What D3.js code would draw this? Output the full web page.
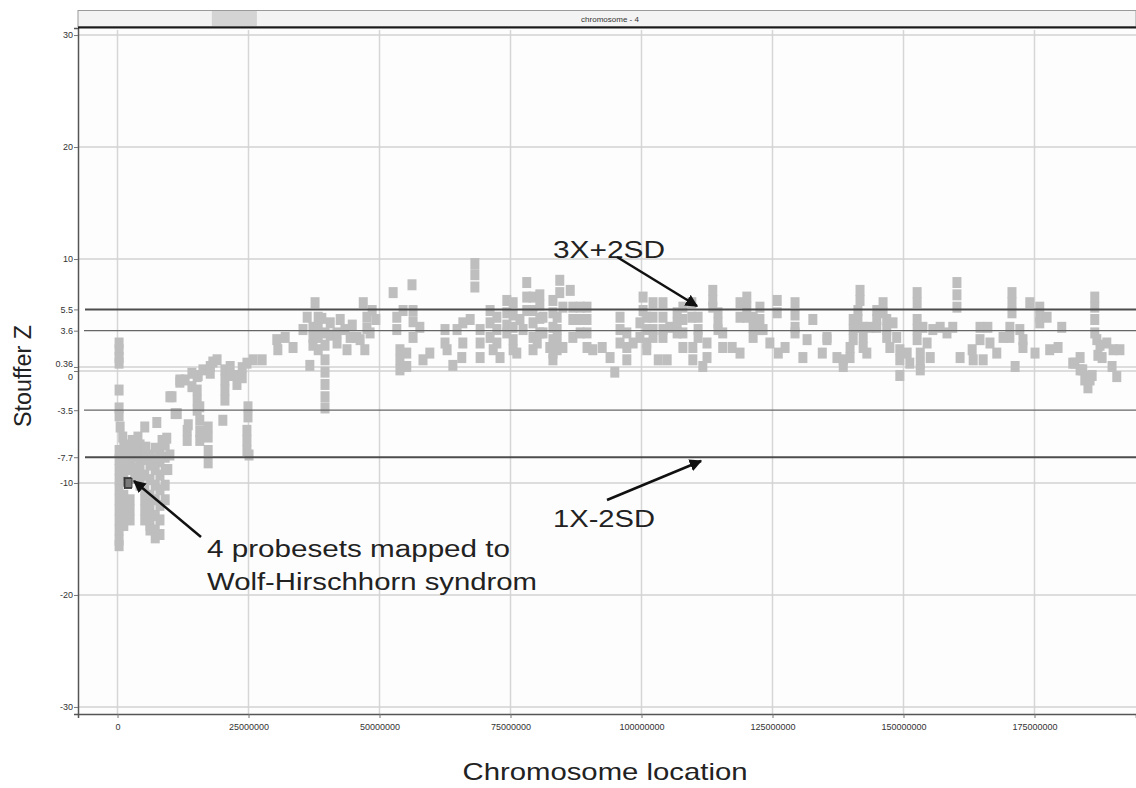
<!DOCTYPE html>
<html>
<head>
<meta charset="utf-8">
<script src="https://cdn.jsdelivr.net/npm/d3@7"></script>
<style>
  body { margin: 0; background: #fff; }
  .tick text { font-family: "Liberation Sans Narrow", "Arial Narrow", "Liberation Sans", Arial, sans-serif; font-size: 9px; fill: #333; }
  .label { font-family: "Liberation Sans", Arial, sans-serif; fill: #222; }
</style>
</head>
<body>
<div id="chart"></div>
<script>
// chart data (positions in Mb, values are Stouffer Z)
var xTicks = [0, 25000000, 50000000, 75000000, 100000000, 125000000, 150000000, 175000000];
var yTicks = [30, 20, 10, 5.5, 3.6, 0.36, 0, -3.5, -7.7, -10, -20, -30];
var gridValues = [30, 20, 10, 0.36, 0, -10, -20, -30];
var outerCutoffs = [5.5, -7.7];
var innerCutoffs = [3.6, -3.5];

var probesets = [
  // p-terminal end
  [0.3,2.5],[0.3,1.9],[0.3,1.2],[0.3,0.7],[0.3,-1.7],[0.3,-3.3],[0.3,-4.0],[0.5,-5.0],
  [0.3,-7.1],[0.3,-7.9],[0.3,-8.8],[0.3,-9.7],[0.3,-10.6],[0.3,-11.5],[0.3,-12.4],[0.3,-13.3],[0.3,-14.2],[0.3,-15.1],[0.3,-15.6],
  [1.2,-6.6],[1.2,-7.5],[1.2,-8.4],[1.2,-9.3],[1.2,-11.1],[1.2,-12.0],[1.2,-12.9],[1.2,-13.8],
  [2.4,-7.1],[2.4,-7.9],[2.4,-8.8],[2.4,-11.5],[2.4,-12.4],[2.4,-13.3],
  [3.3,-6.9],[3.3,-7.7],[3.3,-8.7],[3.3,-9.6],
  [4.3,-6.6],[4.3,-7.5],[4.3,-8.4],[4.3,-9.3],[4.3,-10.2],
  [5.2,-7.1],[5.2,-7.9],[5.2,-9.3],[5.2,-10.6],[5.2,-11.5],[5.2,-12.4],[5.2,-13.3],
  [6.2,-7.5],[6.2,-8.4],[6.2,-9.7],[6.2,-11.1],[6.2,-12.0],[6.2,-12.9],[6.2,-13.8],[6.2,-14.2],
  [7.2,-6.9],[7.2,-7.9],[7.2,-8.8],[7.2,-10.2],[7.2,-11.5],[7.2,-12.9],[7.2,-14.2],[7.2,-14.9],
  [8.1,-7.1],[8.1,-8.1],[8.1,-9.3],[8.1,-10.6],[8.1,-12.0],[8.1,-13.3],[8.1,-14.6],
  [9.1,-6.6],[9.1,-7.7],[9.1,-8.8],[9.1,-10.2],[9.1,-11.5],
  [1.0,-5.9],[2.8,-6.2],[3.9,-5.9],[5.2,-5.0],[7.5,-4.6],[5.4,-6.8],[8.5,-6.2],[9.4,-6.0],[10.0,-7.5],[9.6,-8.8],
  // 10 - 20 Mb
  [10.0,-2.3],[10.4,-2.3],[11.4,-3.8],[11.0,-3.8],[11.9,-0.8],[11.9,-1.0],[13.3,-5.3],[13.3,-6.2],[13.5,-4.8],
  [14.2,-0.2],[14.2,-1.4],[15.2,-0.5],[15.2,-1.7],[15.2,-2.6],[15.2,-3.5],[15.7,-3.2],[15.7,-4.4],[15.7,-5.4],[15.7,-6.2],
  [16.3,0.1],[17.3,-5.0],[17.3,-5.9],[17.3,-7.1],[17.3,-8.2],[17.7,0.4],[17.7,-0.2],[18.2,0.8],[19.0,1.0],[15.4,-0.4],[12.9,-0.8],
  // 20 - 27 Mb
  [20.1,-4.4],[20.5,0.1],[20.5,-0.8],[20.5,-1.7],[20.5,-2.6],[21.5,0.4],[21.5,-0.4],[22.4,-0.4],[22.8,-1.2],
  [23.8,0.3],[23.8,-0.6],[24.7,0.7],[25.9,1.0],[24.9,-3.2],[24.9,-4.1],[24.7,-5.3],[24.7,-6.2],[24.7,-7.1],[25.1,-7.5],
  // 27 - 50 Mb
  [27.6,1.0],[30.4,2.8],[32.0,3.0],[30.6,1.9],[33.5,2.1],[36.2,4.8],[37.7,6.1],[36.7,0.5],[37.3,3.9],[37.3,3.0],[37.3,2.3],
  [38.3,4.8],[38.3,3.9],[38.3,3.0],[38.3,1.9],[39.6,3.4],[39.6,2.3],[39.6,1.0],[39.6,-0.1],[39.6,-1.2],[39.6,-2.3],[39.6,-3.3],
  [40.6,4.3],[40.6,3.2],[42.5,4.6],[41.9,3.4],[41.9,2.5],[43.8,1.9],[44.4,3.0],[45.7,3.0],[46.9,6.1],[47.6,4.8],[47.6,3.8],
  [48.2,3.4],[48.6,5.4],[49.3,4.6],[35.4,3.7],[39.0,4.7],[43.4,3.7],[44.8,4.1],[46.3,2.8],[47.2,1.9],
  // 50 - 84 Mb
  [52.6,7.0],[56.2,7.7],[53.3,4.8],[53.3,3.7],[54.5,5.4],[56.4,5.4],[56.4,4.4],[56.4,3.0],[57.7,3.9],[53.9,1.9],[53.9,1.0],
  [53.9,0.1],[55.2,1.6],[55.2,0.4],[58.3,1.0],[59.6,1.6],[62.5,3.7],[62.5,2.5],[62.9,1.9],[64.0,0.5],[65.9,4.3],[65.9,2.5],
  [65.7,1.2],[68.2,9.6],[68.2,8.6],[68.2,7.5],[69.2,3.7],[69.2,2.5],[69.2,1.2],[71.1,5.4],[71.1,4.3],[71.1,3.0],[71.7,1.9],
  [73.0,1.2],[72.4,4.8],[72.4,3.7],[72.4,2.5],[74.3,6.3],[74.3,5.2],[74.3,4.1],[74.3,3.4],[75.5,6.1],[75.5,5.0],[75.5,3.9],
  [75.5,2.8],[75.5,1.9],[76.2,1.6],[78.1,7.9],[78.1,6.6],[78.1,5.4],[79.3,6.6],[79.3,5.4],[79.3,4.3],[79.3,3.0],[79.3,1.9],
  [80.1,2.5],[81.2,4.8],[81.2,3.4],[82.5,2.1],[83.1,6.3],[83.1,5.2],[83.1,3.9],[83.1,2.8],[83.1,1.6],[83.1,1.0],
  [64.8,3.7],[67.3,4.6],[76.8,4.6],[77.4,3.7],
  // 80 - 137 Mb
  [80.6,6.8],[80.6,5.9],[80.6,4.7],[80.6,3.4],[84.4,8.1],[84.4,7.0],[85.0,5.7],[83.9,4.8],[83.9,3.7],[83.9,2.8],[83.9,1.9],
  [85.0,2.1],[86.4,7.2],[86.9,5.7],[86.9,4.6],[86.9,3.0],[88.3,5.7],[88.3,4.6],[88.3,3.4],[89.6,5.7],[89.6,4.6],[89.6,3.4],
  [89.6,2.1],[90.7,1.9],[92.5,2.1],[94.0,1.2],[94.9,-0.1],[95.9,4.8],[95.9,3.7],[95.9,2.5],[97.2,3.4],[97.2,2.1],[97.2,1.0],
  [98.4,2.5],[99.7,4.3],[99.7,3.0],[100.3,6.6],[100.3,5.4],[101.0,4.8],[101.0,3.7],[101.0,2.5],[101.0,1.9],[102.2,6.1],
  [102.2,4.8],[102.2,3.7],[102.2,3.0],[103.2,1.0],[104.9,1.0],[104.1,6.1],[104.1,4.8],[104.1,3.7],[104.1,3.0],[105.4,3.9],
  [106.8,5.2],[106.8,4.3],[106.8,3.4],[107.9,5.7],[107.9,4.6],[107.9,3.4],[107.9,2.1],[109.6,6.1],[109.6,4.8],[109.8,2.1],
  [109.8,1.0],[110.8,4.8],[110.8,3.7],[110.8,3.0],[111.7,0.4],[112.5,2.5],[112.5,1.2],[113.6,7.2],[113.6,6.3],[113.6,5.7],
  [114.6,5.2],[114.6,4.3],[114.6,3.7],[115.5,3.4],[115.5,2.1],[117.3,2.1],[118.8,1.6],[118.8,6.1],[118.8,4.8],[120.1,6.6],
  [120.1,5.7],[120.1,4.8],[121.3,4.8],[121.3,3.9],[121.3,3.0],[122.6,5.7],[122.6,4.6],[122.6,3.7],[123.2,3.7],[124.5,2.5],
  [126.1,1.6],[125.9,5.2],[125.9,6.3],[127.4,2.1],[129.3,6.1],[129.3,5.0],[129.3,3.9],[129.3,3.4],[130.8,1.2],[131.6,2.8],
  [132.7,4.6],[134.5,1.6],[135.4,2.8],[137.3,1.2],
  // 135 - 192 Mb (q-terminal end)
  [135.4,3.0],[138.5,1.0],[138.5,0.4],[139.8,2.1],[139.8,1.2],[140.4,4.6],[140.4,3.7],[140.4,2.8],[141.7,7.2],[141.7,6.3],
  [141.3,5.4],[141.3,4.6],[141.3,3.9],[142.3,3.9],[142.3,3.0],[142.3,2.1],[143.0,1.6],[143.6,3.9],[144.9,5.4],[144.9,4.6],
  [144.9,3.9],[146.1,6.1],[146.1,5.2],[146.8,4.6],[146.8,3.7],[146.8,3.0],[147.4,2.1],[148.0,4.3],[148.7,3.0],[149.3,1.9],
  [149.3,1.0],[149.3,-0.4],[150.7,1.6],[151.2,0.7],[152.6,7.0],[152.6,6.1],[152.6,4.6],[152.6,3.7],[152.6,2.8],[153.2,1.6],
  [153.2,0.7],[153.2,0.1],[153.7,3.9],[154.5,2.5],[155.1,1.2],[155.6,3.7],[157.0,3.9],[158.3,3.4],[159.4,3.9],[160.2,7.9],
  [160.2,6.8],[160.2,5.7],[160.8,1.2],[163.1,1.9],[163.3,1.0],[164.6,3.9],[164.6,2.8],[165.2,1.0],[166.1,3.9],[166.5,2.5],
  [167.8,1.6],[169.0,3.0],[170.7,7.0],[170.7,6.1],[170.7,5.2],[170.3,3.9],[170.3,3.0],[171.3,0.4],[172.2,3.7],[172.8,2.8],
  [172.8,2.1],[174.1,6.1],[175.1,1.6],[176.0,5.7],[176.0,4.8],[176.0,4.3],[177.4,4.8],[177.9,1.9],[179.5,2.1],[180.2,3.9],
  [182.3,0.7],[182.7,0.7],[183.7,1.2],[183.7,0.1],[184.2,0.1],[184.6,-0.8],[185.0,-0.5],[185.2,-1.5],[185.6,-0.8],[186.0,-0.4],
  [186.5,6.6],[186.5,5.7],[186.5,4.6],[186.5,3.4],[186.9,2.8],[187.1,1.4],[187.5,2.3],[187.9,1.2],[188.8,2.5],[189.8,0.4],
  [190.0,1.9],[190.7,-0.5],[191.3,1.9]
];

// the 4 probesets mapped to the Wolf-Hirschhorn region
var wolfHirschhorn = [[1.9,-9.9],[2.0,-10.0],[2.0,-10.1],[2.1,-10.0]];

var svgWidth = 1136;
var svgHeight = 788;

var margin = {
  top: 28,
  right: 0,
  bottom: 74,
  left: 78
};

var width = svgWidth - margin.left - margin.right;
var height = svgHeight - margin.top - margin.bottom;

var svg = d3.select("#chart")
  .append("svg")
  .attr("width", svgWidth)
  .attr("height", svgHeight);

var chartGroup = svg.append("g")
  .attr("transform", `translate(${margin.left}, ${margin.top})`);

var xScale = d3.scaleLinear()
  .domain([-7540000, 194370000])
  .range([0, width]);

var yScale = d3.scaleLinear()
  .domain([-30.63, 30.63])
  .range([height, 0]);

// plot background
chartGroup.append("rect")
  .attr("width", width)
  .attr("height", height)
  .attr("fill", "#fdfdfd");

// chromosome bar on top
var bar = svg.append("g");
bar.append("rect")
  .attr("x", margin.left)
  .attr("y", 10.5)
  .attr("width", width)
  .attr("height", 16)
  .attr("fill", "#f3f3f3")
  .attr("stroke", "#9a9a9a");
bar.append("rect")
  .attr("x", margin.left + xScale(18000000))
  .attr("y", 11)
  .attr("width", xScale(26600000) - xScale(18000000))
  .attr("height", 15)
  .attr("fill", "#d4d4d4");
bar.append("line")
  .attr("x1", margin.left)
  .attr("x2", svgWidth)
  .attr("y1", 27.5)
  .attr("y2", 27.5)
  .attr("stroke", "#1a1a1a")
  .attr("stroke-width", 2.2);
bar.append("text")
  .attr("x", 610)
  .attr("y", 22)
  .attr("text-anchor", "middle")
  .style("font-family", "'Liberation Sans Narrow', 'Liberation Sans', Arial, sans-serif")
  .style("font-size", "8px")
  .style("fill", "#333")
  .text("chromosome - 4");

// grid lines
chartGroup.selectAll(".vgrid")
  .data(xTicks)
  .enter()
  .append("line")
  .attr("x1", d => xScale(d))
  .attr("x2", d => xScale(d))
  .attr("y1", 2)
  .attr("y2", height)
  .attr("stroke", "#d6d6d6")
  .attr("stroke-width", 1.5);

chartGroup.selectAll(".hgrid")
  .data(gridValues)
  .enter()
  .append("line")
  .attr("x1", 0)
  .attr("x2", width)
  .attr("y1", d => yScale(d))
  .attr("y2", d => yScale(d))
  .attr("stroke", "#d2d2d2")
  .attr("stroke-width", 1.5);

// probesets
chartGroup.selectAll(".probe")
  .data(probesets)
  .enter()
  .append("rect")
  .attr("x", d => xScale(d[0] * 1e6) - 4.5)
  .attr("y", d => yScale(d[1]) - 5.5)
  .attr("width", 9)
  .attr("height", 11)
  .attr("fill", "#bebebe");

chartGroup.selectAll(".whs")
  .data(wolfHirschhorn)
  .enter()
  .append("rect")
  .attr("x", d => xScale(d[0] * 1e6) - 3.5)
  .attr("y", d => yScale(d[1]) - 4.5)
  .attr("width", 7)
  .attr("height", 9)
  .attr("fill", "#7a7a7a")
  .attr("stroke", "#333")
  .attr("stroke-width", 0.8);

// cutoff lines
chartGroup.selectAll(".outer")
  .data(outerCutoffs)
  .enter()
  .append("line")
  .attr("x1", 7)
  .attr("x2", width)
  .attr("y1", d => yScale(d))
  .attr("y2", d => yScale(d))
  .attr("stroke", "#4d4d4d")
  .attr("stroke-width", 2);

chartGroup.selectAll(".inner")
  .data(innerCutoffs)
  .enter()
  .append("line")
  .attr("x1", 6)
  .attr("x2", width)
  .attr("y1", d => yScale(d))
  .attr("y2", d => yScale(d))
  .attr("stroke", "#666")
  .attr("stroke-width", 1.2);

// axes
var leftAxis = d3.axisLeft(yScale)
  .tickValues(yTicks)
  .tickSize(4)
  .tickPadding(1)
  .tickFormat(d => String(d));

var bottomAxis = d3.axisBottom(xScale)
  .tickValues(xTicks)
  .tickSize(4)
  .tickPadding(6)
  .tickFormat(d3.format("d"));

var yAxis = chartGroup.append("g")
  .call(leftAxis);

var xAxis = chartGroup.append("g")
  .attr("transform", `translate(0, ${height})`)
  .call(bottomAxis);

[yAxis, xAxis].forEach(function(axis) {
  axis.select(".domain").attr("stroke", "#555").attr("stroke-width", 1.5);
  axis.selectAll(".tick line").attr("stroke", "#777");
});

// nudge the crowded labels near zero
yAxis.selectAll(".tick text")
  .attr("dy", d => d === 0.36 ? "-0.1em" : (d === 0 ? "0.9em" : "0.32em"));

// axis titles
svg.append("text")
  .attr("class", "label")
  .attr("transform", "translate(31, 376) rotate(-90)")
  .attr("text-anchor", "middle")
  .attr("textLength", 102)
  .attr("lengthAdjust", "spacingAndGlyphs")
  .style("font-size", "23px")
  .text("Stouffer Z");

svg.append("text")
  .attr("class", "label")
  .attr("x", 605)
  .attr("y", 780)
  .attr("text-anchor", "middle")
  .attr("textLength", 285)
  .attr("lengthAdjust", "spacingAndGlyphs")
  .style("font-size", "24px")
  .text("Chromosome location");

// annotations
svg.append("defs").append("marker")
  .attr("id", "head")
  .attr("viewBox", "0 0 10 10")
  .attr("refX", 9)
  .attr("refY", 5)
  .attr("markerWidth", 5)
  .attr("markerHeight", 5)
  .attr("orient", "auto")
  .append("path")
  .attr("d", "M0,0L10,5L0,10Z")
  .attr("fill", "#111");

var notes = [
  {text: "3X+2SD", x: 553, y: 258, w: 112},
  {text: "1X-2SD", x: 553, y: 527, w: 102},
  {text: "4 probesets mapped to", x: 207, y: 557, w: 303},
  {text: "Wolf-Hirschhorn syndrom", x: 207, y: 590, w: 330}
];

svg.selectAll(".note")
  .data(notes)
  .enter()
  .append("text")
  .attr("class", "label")
  .attr("x", d => d.x)
  .attr("y", d => d.y)
  .attr("textLength", d => d.w)
  .attr("lengthAdjust", "spacingAndGlyphs")
  .style("font-size", "23px")
  .text(d => d.text);

var arrows = [
  {from: [617, 257], to: [697, 306]},
  {from: [607, 500], to: [701, 461]},
  {from: [201, 537], to: [134, 481]}
];

svg.selectAll(".arrow")
  .data(arrows)
  .enter()
  .append("line")
  .attr("x1", d => d.from[0])
  .attr("y1", d => d.from[1])
  .attr("x2", d => d.to[0])
  .attr("y2", d => d.to[1])
  .attr("stroke", "#111")
  .attr("stroke-width", 2.5)
  .attr("marker-end", "url(#head)");
</script>
</body>
</html>
